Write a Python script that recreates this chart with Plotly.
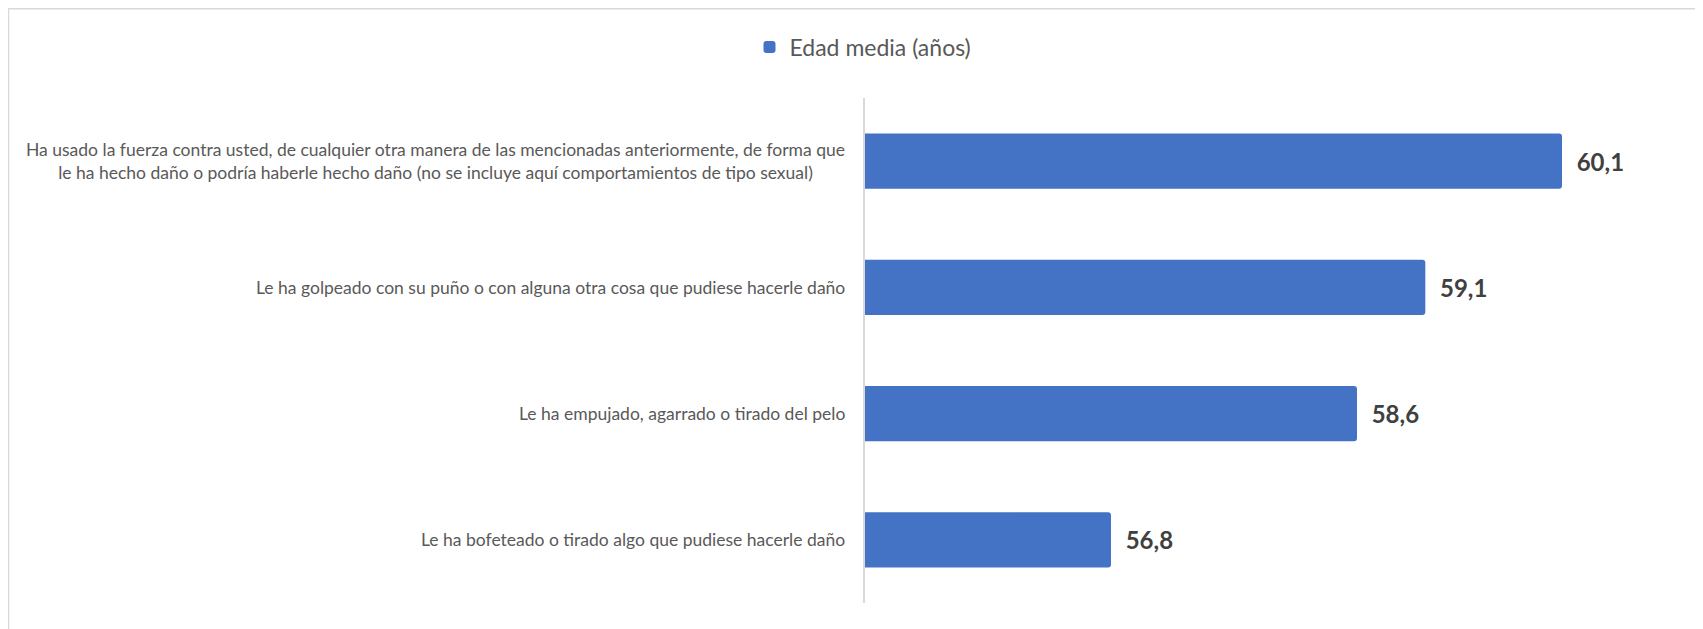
import plotly.graph_objects as go

categories = [
    "Ha usado la fuerza contra usted, de cualquier otra manera de las mencionadas anteriormente, de forma que<br>le ha hecho daño o podría haberle hecho daño (no se incluye aquí comportamientos de tipo sexual)",
    "Le ha golpeado con su puño o con alguna otra cosa que pudiese hacerle daño",
    "Le ha empujado, agarrado o tirado del pelo",
    "Le ha bofeteado o tirado algo que pudiese hacerle daño",
]
values = [60.1, 59.1, 58.6, 56.8]
series_name = "Edad media (años)"
x_range = [55, 61]

W, H = 1703, 629
L, R, T, B = 857, 26, 90, 34
pw, ph = W - L - R, H - T - B

fig = go.Figure()
fig.add_trace(go.Bar(
    y=categories, x=values, orientation="h", name=series_name,
    marker=dict(color="#4472C4", cornerradius=3, line=dict(width=0)),
    texttemplate="\u00a0\u00a0%{x:.1f}", textposition="outside",
    textfont=dict(family="Lato", size=24, color="#404040", weight="bold"),
    cliponaxis=False, showlegend=True,
))

annotations = []
for c in categories:
    annotations.append(dict(
        x=x_range[0], y=c, xref="x", yref="y", text=c, showarrow=False,
        xanchor="right", yanchor="middle", align="center", xshift=-18,
        font=dict(family="Lato", size=17.5, color="#595959"),
    ))

shapes = [dict(
    type="rect", xref="paper", yref="paper",
    x0=(0.5 - L) / pw, x1=(W + 10 - L) / pw,
    y0=-(B + 10) / ph, y1=1 + (T - 0.75) / ph,
    line=dict(color="#D9D9D9", width=1.5), fillcolor="rgba(0,0,0,0)", layer="below",
)]

fig.update_layout(
    width=W, height=H,
    margin=dict(l=L, r=R, t=T, b=B),
    paper_bgcolor="white", plot_bgcolor="white",
    separators=",.",
    bargap=0.563,
    xaxis=dict(range=x_range, visible=False, fixedrange=True),
    yaxis=dict(autorange="reversed", showticklabels=False, ticks="",
               showline=True, linecolor="#D9D9D9", linewidth=1.5,
               showgrid=False, zeroline=False),
    legend=dict(orientation="h", x=-2 / pw, xanchor="center",
                y=1 + (T - 39) / ph, yanchor="middle",
                font=dict(family="Lato", size=23, color="#595959"),
                itemwidth=30, bgcolor="rgba(0,0,0,0)"),
    annotations=annotations,
    shapes=shapes,
)

fig.write_html("out.html")
